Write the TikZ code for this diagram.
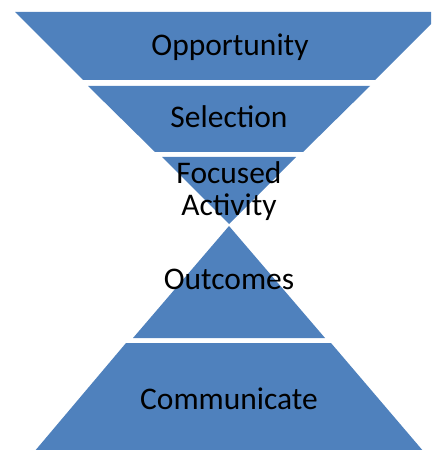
\documentclass[tikz,border=0pt]{standalone}
\usepackage{fontspec}
\setmainfont{Carlito}
\definecolor{stageblue}{RGB}{79,129,189}
\begin{document}
\begin{tikzpicture}[x=1bp,y=-1bp,
  stage/.style={fill=stageblue,draw=none},
  label/.style={anchor=base,inner sep=0pt,font=\fontsize{31.6}{31}\selectfont,text=black,align=center}]
\useasboundingbox (0,0) rectangle (431,450);
\clip (0,0) rectangle (431,450);
% upper funnel: narrowing bands
\fill[stage] (15,12) -- (443,12) -- (375,80) -- (83,80) -- cycle;
\fill[stage] (88,86) -- (370,86) -- (303,152) -- (155,152) -- cycle;
\fill[stage] (162,157) -- (296,157) -- (229,224) -- cycle;
% lower pyramid: widening bands
\fill[stage] (229,226) -- (325,338) -- (133,338) -- cycle;
\fill[stage] (126,343) -- (331,343) -- (424,452) -- (34,452) -- cycle;
% stage labels
\node[label] (opp) at (230,56) {Opportunity};
\node[label] (sel) at (229,128) {Selection};
\node[label] (foc) at (229,184) {Focused};
\node[label] (act) at (229,216) {Activity};
\node[label] (out) at (229,289) {Outcomes};
\node[label] (com) at (229,409) {Communicate};
\end{tikzpicture}
\end{document}
